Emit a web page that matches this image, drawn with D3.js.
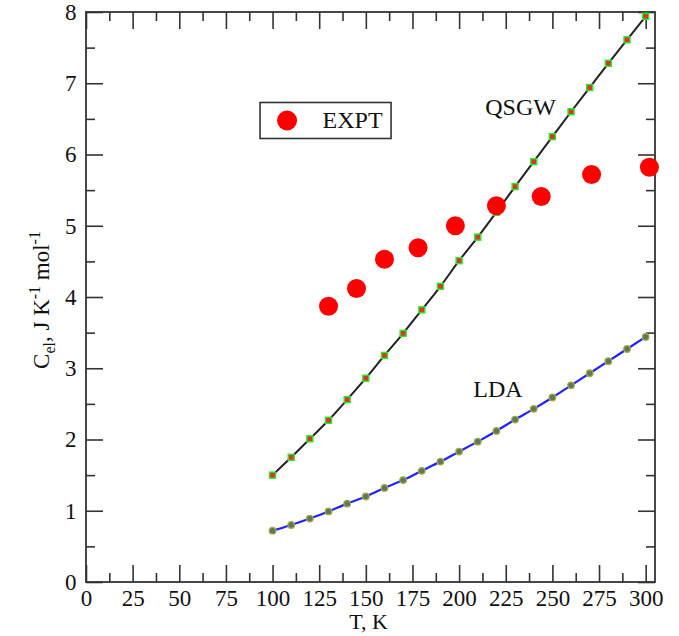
<!DOCTYPE html>
<html>
<head>
<meta charset="utf-8">
<script src="https://cdn.jsdelivr.net/npm/d3@7"></script>
<style>
  body { margin: 0; background: #fff; }
</style>
</head>
<body>
<div id="chart"></div>
<script>
// temperatures (K) for the calculated curves
var calcT = [100, 110, 120, 130, 140, 150, 160, 170, 180, 190, 200,
             210, 220, 230, 240, 250, 260, 270, 280, 290, 300];
var qsgw = [1.50, 1.75, 2.01, 2.27, 2.56, 2.86, 3.18, 3.49, 3.82, 4.15, 4.51,
            4.84, 5.19, 5.55, 5.90, 6.25, 6.60, 6.94, 7.28, 7.61, 7.94];
var lda = [0.72, 0.80, 0.89, 0.99, 1.10, 1.20, 1.32, 1.43, 1.56, 1.69, 1.83,
           1.97, 2.12, 2.28, 2.43, 2.59, 2.76, 2.93, 3.10, 3.27, 3.44];

// experiment
var exptT = [130, 145, 160, 178, 198, 220, 244, 271, 302];
var expt = [3.87, 4.12, 4.53, 4.69, 5.00, 5.28, 5.41, 5.72, 5.82];

var xTicks = [0, 25, 50, 75, 100, 125, 150, 175, 200, 225, 250, 275, 300];
var yTicks = [0, 1, 2, 3, 4, 5, 6, 7, 8];

var serif = "'Liberation Serif', 'Times New Roman', 'DejaVu Serif', serif";

var svgWidth = 679;
var svgHeight = 636;
var margin = { top: 12, right: 24, bottom: 54, left: 86 };
var width = svgWidth - margin.left - margin.right;
var height = svgHeight - margin.top - margin.bottom;

var svg = d3.select("#chart")
  .append("svg")
  .attr("width", svgWidth)
  .attr("height", svgHeight)
  .attr("font-family", serif);

var chartGroup = svg.append("g")
  .attr("transform", `translate(${margin.left}, ${margin.top})`);

var x = d3.scaleLinear().domain([0, 305]).range([0, width]);
var y = d3.scaleLinear().domain([0, 8]).range([height, 0]);

var xMinor = d3.range(12.5, 305, 25);
var yMinor = d3.range(0.5, 8, 1);

function styleAxis(g) {
  g.attr("font-family", serif).attr("font-size", 23);
  g.select(".domain").remove();
  g.selectAll("line").attr("stroke", "#333").attr("stroke-width", 1.6);
  g.selectAll("text").style("font-family", serif).style("font-size", "23px").attr("fill", "#111");
}

// bottom
chartGroup.append("g")
  .attr("transform", `translate(0, ${height})`)
  .call(d3.axisBottom(x).tickValues(xTicks).tickSize(-17).tickPadding(8).tickFormat(d3.format("d")))
  .call(styleAxis);
chartGroup.append("g")
  .attr("transform", `translate(0, ${height})`)
  .call(d3.axisBottom(x).tickValues(xMinor).tickSize(-9).tickFormat(""))
  .call(styleAxis);
// top
chartGroup.append("g")
  .call(d3.axisTop(x).tickValues(xTicks).tickSize(-17).tickFormat(""))
  .call(styleAxis);
chartGroup.append("g")
  .call(d3.axisTop(x).tickValues(xMinor).tickSize(-9).tickFormat(""))
  .call(styleAxis);
// left
chartGroup.append("g")
  .call(d3.axisLeft(y).tickValues(yTicks).tickSize(-17).tickPadding(9.5).tickFormat(d3.format("d")))
  .call(styleAxis);
chartGroup.append("g")
  .call(d3.axisLeft(y).tickValues(yMinor).tickSize(-9).tickFormat(""))
  .call(styleAxis);
// right
chartGroup.append("g")
  .attr("transform", `translate(${width}, 0)`)
  .call(d3.axisRight(y).tickValues(yTicks).tickSize(-17).tickFormat(""))
  .call(styleAxis);
chartGroup.append("g")
  .attr("transform", `translate(${width}, 0)`)
  .call(d3.axisRight(y).tickValues(yMinor).tickSize(-9).tickFormat(""))
  .call(styleAxis);

// frame
chartGroup.append("rect")
  .attr("width", width)
  .attr("height", height)
  .attr("fill", "none")
  .attr("stroke", "#333")
  .attr("stroke-width", 1.8);

// axis titles
chartGroup.append("text")
  .attr("x", width / 2 - 2)
  .attr("y", height + 47)
  .style("text-anchor", "middle")
  .style("font-family", serif)
  .style("font-size", "22px")
  .attr("fill", "#111")
  .text("T, K");

var yTitle = chartGroup.append("text")
  .attr("transform", "rotate(-90)")
  .attr("x", -288)
  .attr("y", -37)
  .style("text-anchor", "middle")
  .style("font-family", serif)
  .style("font-size", "23px")
  .attr("fill", "#111");
yTitle.append("tspan").text("C");
yTitle.append("tspan").attr("dy", 6).style("font-size", "16px").text("el");
yTitle.append("tspan").attr("dy", -6).text(", J K");
yTitle.append("tspan").attr("dy", -9).style("font-size", "16px").text("-1");
yTitle.append("tspan").attr("dy", 9).text(" mol");
yTitle.append("tspan").attr("dy", -9).style("font-size", "16px").text("-1");

// lines
var qsgwData = calcT.map((t, i) => ({ t: t, v: qsgw[i] }));
var ldaData = calcT.map((t, i) => ({ t: t, v: lda[i] }));

var line = d3.line()
  .x(d => x(d.t))
  .y(d => y(d.v))
  .curve(d3.curveMonotoneX);

chartGroup.append("path")
  .datum(qsgwData)
  .attr("d", line)
  .attr("fill", "none")
  .attr("stroke", "#222")
  .attr("stroke-width", 2);

chartGroup.append("path")
  .datum(ldaData)
  .attr("d", line)
  .attr("fill", "none")
  .attr("stroke", "#2222ff")
  .attr("stroke-width", 2.2);

// QSGW markers: green squares with red centre
chartGroup.selectAll(".qsq")
  .data(qsgwData)
  .enter()
  .append("rect")
  .attr("x", d => x(d.t) - 3)
  .attr("y", d => y(d.v) - 3)
  .attr("width", 6)
  .attr("height", 6)
  .attr("fill", "#e03030")
  .attr("stroke", "#22ee22")
  .attr("stroke-width", 1.4);

// LDA markers
chartGroup.selectAll(".ldac")
  .data(ldaData)
  .enter()
  .append("circle")
  .attr("cx", d => x(d.t))
  .attr("cy", d => y(d.v))
  .attr("r", 3.3)
  .attr("fill", "#5a7a5a")
  .attr("stroke", "#a9a845")
  .attr("stroke-width", 1.2);

// experiment dots
chartGroup.selectAll(".expt")
  .data(exptT)
  .enter()
  .append("circle")
  .attr("cx", d => x(d))
  .attr("cy", (d, i) => y(expt[i]))
  .attr("r", 9.5)
  .attr("fill", "#ff0000");

// curve labels
chartGroup.append("text")
  .attr("x", x(214))
  .attr("y", y(6.56))
  .style("font-family", serif)
  .style("font-size", "24px")
  .attr("fill", "#111")
  .text("QSGW");

chartGroup.append("text")
  .attr("x", x(207.6))
  .attr("y", y(2.6))
  .style("font-family", serif)
  .style("font-size", "24px")
  .attr("fill", "#111")
  .text("LDA");

// legend
var legend = chartGroup.append("g")
  .attr("transform", `translate(${x(93.3)}, ${y(6.73)})`);
legend.append("rect")
  .attr("width", 131)
  .attr("height", 36)
  .attr("fill", "#fff")
  .attr("stroke", "#333")
  .attr("stroke-width", 1.6);
legend.append("circle")
  .attr("cx", 27)
  .attr("cy", 18)
  .attr("r", 10)
  .attr("fill", "#ff0000");
legend.append("text")
  .attr("x", 62.5)
  .attr("y", 25.5)
  .style("font-family", serif)
  .style("font-size", "24px")
  .attr("fill", "#111")
  .text("EXPT");
</script>
</body>
</html>
